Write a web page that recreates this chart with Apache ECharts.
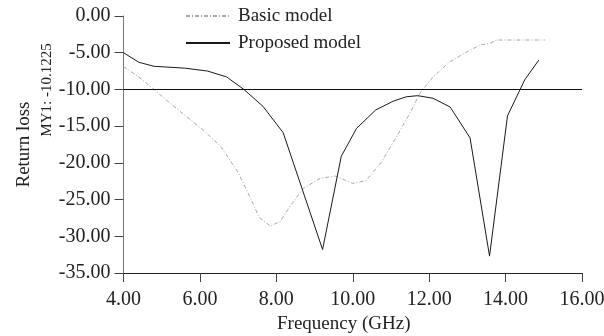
<!DOCTYPE html>
<html>
<head>
<meta charset="utf-8">
<script src="https://cdn.jsdelivr.net/npm/echarts@6/dist/echarts.min.js"></script>
<style>html,body{margin:0;padding:0;background:#fff;}#c{width:604px;height:336px;}</style>
</head>
<body>
<div id="c"></div>
<script>
var basicFreq = [4.0, 4.4, 4.8, 5.2, 5.65, 6.1, 6.55, 7.0, 7.25, 7.55, 7.84, 8.1, 8.36, 8.7, 9.15, 9.55, 10.0, 10.35, 10.75, 11.15, 11.5, 11.76, 12.1, 12.55, 13.0, 13.33, 13.6, 13.77, 15.03];
var basicLoss = [-6.9, -8.3, -10.0, -11.8, -13.7, -15.6, -17.8, -21.3, -24.0, -27.4, -28.6, -28.0, -25.9, -23.5, -22.1, -21.8, -22.8, -22.4, -19.9, -16.4, -13.2, -10.5, -8.3, -6.2, -4.85, -3.95, -3.7, -3.27, -3.27];
var propFreq = [4.0, 4.4, 4.8, 5.6, 6.2, 6.7, 7.15, 7.65, 8.18, 9.21, 9.7, 10.1, 10.6, 11.06, 11.4, 11.7, 12.1, 12.55, 13.07, 13.58, 14.05, 14.5, 14.87];
var propLoss = [-5.0, -6.3, -6.85, -7.1, -7.5, -8.3, -10.0, -12.3, -15.9, -31.8, -19.1, -15.3, -12.8, -11.6, -11.0, -10.85, -11.2, -12.4, -16.6, -32.7, -13.6, -8.7, -6.0];
var markerLevel = -10;
var markerText = 'MY1: -10.1225';
var seriesNames = ['Basic model', 'Proposed model'];
var xTitle = 'Frequency (GHz)';
var yTitle = 'Return loss';

function pairs(xs, ys) { return xs.map(function (x, i) { return [x, ys[i]]; }); }
var font = 'Liberation Serif';
var chart = echarts.init(document.getElementById('c'), null, {renderer: 'canvas'});
chart.setOption({
  animation: false,
  backgroundColor: '#fff',
  grid: {left: 123.5, right: 22, top: 16, bottom: 63, outerBoundsMode: 'none', containLabel: false},
  legend: {
    orient: 'vertical', left: 180, top: 1, itemWidth: 44, itemHeight: 14, itemGap: 7,
    itemStyle: {opacity: 0},
    textStyle: {fontFamily: font, fontSize: 19, color: '#222', lineHeight: 20, padding: [0, 0, 0, 3]},
    data: seriesNames
  },
  xAxis: {
    type: 'value', min: 4, max: 16, interval: 2,
    name: xTitle, nameLocation: 'middle', nameGap: 40,
    nameTextStyle: {fontFamily: font, fontSize: 19, color: '#222', padding: [0, 18, 0, 0]},
    axisLine: {show: true, onZero: false, lineStyle: {color: '#222', width: 1}},
    axisTick: {show: true, length: 9, lineStyle: {color: '#444'}},
    axisLabel: {fontFamily: font, fontSize: 20, color: '#222', margin: 17, formatter: function (v) { return v.toFixed(2); }},
    splitLine: {show: false}
  },
  yAxis: {
    type: 'value', min: -35, max: 0, interval: 5,
    name: yTitle, nameLocation: 'middle', nameGap: 90, nameRotate: 90,
    nameTextStyle: {fontFamily: font, fontSize: 19, color: '#222'},
    axisLine: {show: true, lineStyle: {color: '#777', width: 1}},
    axisTick: {show: true, length: 9, lineStyle: {color: '#444'}},
    axisLabel: {fontFamily: font, fontSize: 20, color: '#222', margin: 13, formatter: function (v) { return v.toFixed(2); }},
    splitLine: {show: false}
  },
  graphic: [{
    type: 'text', x: 47, y: 90, rotation: Math.PI / 2,
    style: {text: markerText, fontFamily: font, fontSize: 15, fill: '#222', align: 'center', verticalAlign: 'middle'}
  }],
  series: [{
    name: seriesNames[0], type: 'line', symbol: 'none', smooth: false,
    lineStyle: {color: '#a8a8a8', width: 1, type: [4, 2, 1, 2]},
    itemStyle: {color: '#a8a8a8'},
    data: pairs(basicFreq, basicLoss)
  }, {
    name: seriesNames[1], type: 'line', symbol: 'none', smooth: false,
    lineStyle: {color: '#1a1a1a', width: 1},
    itemStyle: {color: '#1a1a1a'},
    data: pairs(propFreq, propLoss),
    markLine: {
      silent: true, symbol: 'none', label: {show: false},
      lineStyle: {color: '#111', width: 1, type: 'solid'},
      data: [{yAxis: markerLevel}]
    }
  }]
});
</script>
</body>
</html>
